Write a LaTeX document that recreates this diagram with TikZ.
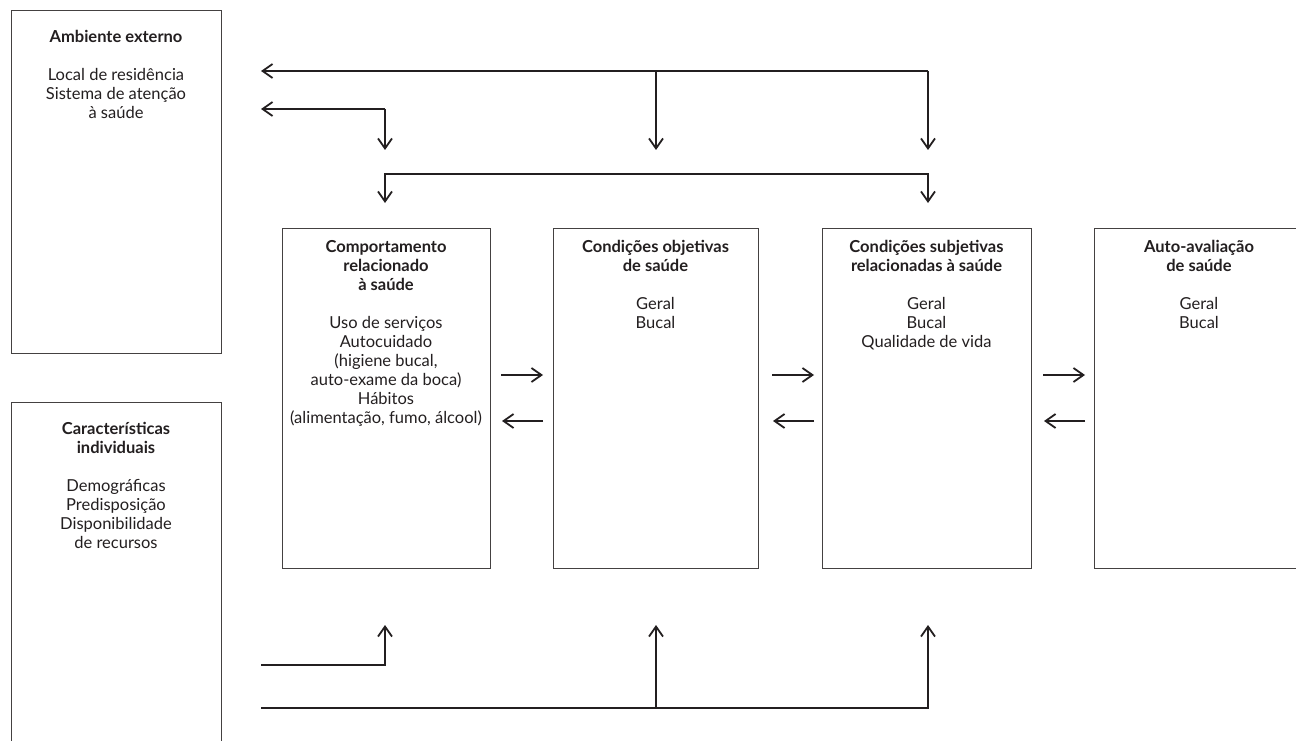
\documentclass[tikz,border=0pt]{standalone}
\usepackage{fontspec}
\setmainfont{Lato}
\usetikzlibrary{arrows.meta}
\definecolor{ink}{HTML}{231F20}
\begin{document}
\begin{tikzpicture}[x=1pt,y=-1pt,
  boxline/.style={draw=ink!85, line width=1.2pt, rectangle, inner sep=0pt, anchor=north west},
  lbl/.style={anchor=north, align=center, inner sep=0pt, text=ink, font=\fontsize{16.5}{19}\selectfont},
  arr/.style={draw=ink, line width=1.3pt, -{Straight Barb[length=10pt,width=14pt,line width=1.8pt]}},
  link/.style={draw=ink, line width=1.3pt}
]
\clip (0,0) rectangle (1296,741);
\fill[white] (0,0) rectangle (1296,741);

% boxes
\node[boxline, minimum width=210pt, minimum height=343pt] (boxA) at (11,10) {};
\node[boxline, minimum width=210pt, minimum height=400pt] (boxC) at (11,402) {};
\node[boxline, minimum width=208pt, minimum height=340pt] (box1) at (282,228) {};
\node[boxline, minimum width=205pt, minimum height=340pt] (box2) at (553,228) {};
\node[boxline, minimum width=209pt, minimum height=340pt] (box3) at (822,228) {};
\node[boxline, minimum width=210pt, minimum height=340pt] (box4) at (1094,228) {};

% texts
\node[lbl] (tA) at (116,30) {\textbf{Ambiente externo}\\[19pt]Local de residência\\Sistema de atenção\\à saúde};
\node[lbl] (tC) at (116,422) {\textbf{Características}\\\textbf{individuais}\\[19pt]Demográficas\\Predisposição\\Disponibilidade\\de recursos};
\node[lbl] (t1) at (386,240) {\textbf{Comportamento}\\\textbf{relacionado}\\\textbf{à saúde}\\[19pt]Uso de serviços\\Autocuidado\\(higiene bucal,\\auto-exame da boca)\\Hábitos\\(alimentação, fumo, álcool)};
\node[lbl] (t2) at (655.5,240) {\textbf{Condições objetivas}\\\textbf{de saúde}\\[19pt]Geral\\Bucal};
\node[lbl] (t3) at (926.5,240) {\textbf{Condições subjetivas}\\\textbf{relacionadas à saúde}\\[19pt]Geral\\Bucal\\Qualidade de vida};
\node[lbl] (t4) at (1199,240) {\textbf{Auto-avaliação}\\\textbf{de saúde}\\[19pt]Geral\\Bucal};

% top connectors
\coordinate (ta) at (928,71);
\coordinate (taL) at (261,71);
\coordinate (taD) at (928,150);
\coordinate (tb) at (656,71);
\coordinate (tbD) at (656,150);
\coordinate (tc) at (385,109);
\coordinate (tcL) at (261,109);
\coordinate (tcD) at (385,150);
\coordinate (td1) at (385,174);
\coordinate (td2) at (928,174);
\coordinate (td1D) at (385,203);
\coordinate (td2D) at (928,203);
\draw[arr] (ta) -- (taL);
\draw[arr] (ta) -- (taD);
\draw[arr] (tb) -- (tbD);
\draw[arr] (tc) -- (tcL);
\draw[arr] (tc) -- (tcD);
\draw[arr] (td2) -- (td1) -- (td1D);
\draw[arr] (td1) -- (td2) -- (td2D);

% horizontal connectors
\foreach \n/\x in {a/501,b/772,c/1043}{
  \coordinate (h\n1) at (\x,375);
  \coordinate (h\n2) at (\x+42,375);
  \coordinate (h\n3) at (\x+42,421);
  \coordinate (h\n4) at (\x+1,421);
  \draw[arr] (h\n1) -- (h\n2);
  \draw[arr] (h\n3) -- (h\n4);
}

% bottom connectors
\coordinate (ba) at (261,665);
\coordinate (baC) at (385,665);
\coordinate (baU) at (385,625);
\coordinate (bb) at (261,708);
\coordinate (bbC) at (928,708);
\coordinate (bbU) at (928,625);
\coordinate (bcC) at (656,708);
\coordinate (bcU) at (656,625);
\draw[arr] (ba) -- (baC) -- (baU);
\draw[arr] (bb) -- (bbC) -- (bbU);
\draw[arr] (bcC) -- (bcU);
\end{tikzpicture}
\end{document}
